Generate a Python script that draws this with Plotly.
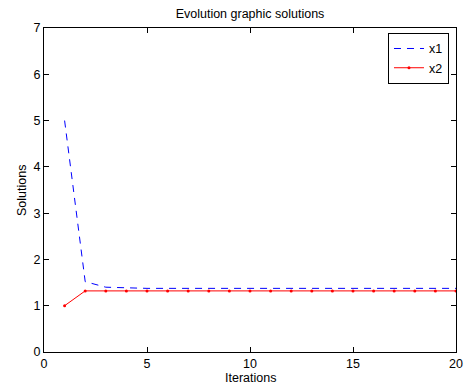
import plotly.graph_objects as go

iterations = list(range(1, 21))
x1 = [5.0, 1.52, 1.40, 1.38] + [1.375] * 16
x2 = [1.0] + [1.32] * 19

fig = go.Figure()
fig.add_trace(go.Scatter(x=iterations, y=x1, mode="lines", name="x1",
                         line=dict(color="#0000ff", width=1, dash="7px,6px")))
fig.add_trace(go.Scatter(x=iterations, y=x2, mode="lines+markers", name="x2",
                         line=dict(color="#ff0000", width=1),
                         marker=dict(color="#ff0000", size=3)))

FS = 12.5
axis_common = dict(showgrid=False, zeroline=False, showline=True, linecolor="black",
                   linewidth=1, mirror="ticks", ticks="inside", ticklen=5,
                   tickcolor="black", tickfont=dict(size=FS, color="black"),
                   automargin=False)
# page body has an 8px default margin; figure sized to compensate
fig.update_layout(
    width=465, height=379,
    margin=dict(l=36, r=17, t=20, b=35, autoexpand=False),
    paper_bgcolor="white", plot_bgcolor="white",
    font=dict(family="Liberation Sans, Arial, sans-serif", size=FS, color="black"),
    title=dict(text="Evolution graphic solutions", x=0.5, xanchor="center", xref="paper",
               y=0.984, yanchor="middle", font=dict(size=FS)),
    xaxis=dict(range=[0, 20], tickvals=[0, 5, 10, 15, 20], **axis_common),
    yaxis=dict(range=[0, 7], tickvals=list(range(8)), **axis_common),
    legend=dict(x=0.983, y=0.985, xanchor="right", yanchor="top",
                bordercolor="black", borderwidth=1, bgcolor="white",
                font=dict(size=FS), tracegroupgap=0, itemwidth=30),
    showlegend=True,
    annotations=[
        dict(text="Iterations", xref="paper", yref="paper", x=0.5, y=-0.080,
             xanchor="center", yanchor="middle", showarrow=False, font=dict(size=FS)),
        dict(text="Solutions", xref="paper", yref="paper", x=-0.0534, y=0.5,
             xanchor="center", yanchor="middle", textangle=-90, showarrow=False,
             font=dict(size=FS)),
    ],
)
fig.write_html("out.html")
